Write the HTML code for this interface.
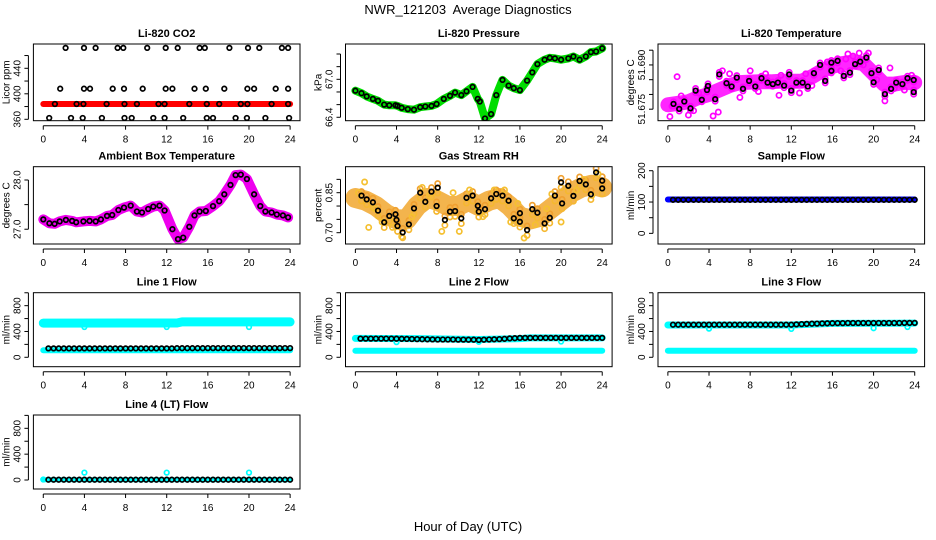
<!DOCTYPE html>
<html><head><meta charset="utf-8">
<style>
html,body{margin:0;padding:0;background:#fff;}
svg{display:block;font-family:"Liberation Sans",Arial,sans-serif;}
</style></head>
<body>
<svg id="chart" width="936" height="540" viewBox="0 0 936 540" xmlns="http://www.w3.org/2000/svg">
<rect width="936" height="540" fill="#fff"/>
<text x="468" y="14" font-size="13" text-anchor="middle">NWR_121203&#160; Average Diagnostics</text>
<text x="468" y="531" font-size="13" text-anchor="middle">Hour of Day (UTC)</text>
</svg>
<script>
// ---------- DATA ----------
const xTicks = [0,4,8,12,16,20,24];
// CO2
const co2Top = [2.17,3.96,5.09,7.23,7.78,10.1,11.9,13.07,15.2,15.7,18.1,19.9,21.0,23.2,23.8];
const co2Mid = [1.65,3.96,4.54,6.75,7.85,9.67,11.9,12.55,14.7,15.8,17.6,19.85,20.5,22.6,23.8];
const co2Base = [1.13,3.24,3.9,6.16,7.9,9.1,11.2,11.8,14.2,15.9,17.1,19.2,19.85,22.2,23.8];
const co2Low = [0.58,2.7,3.83,5.7,7.9,8.6,10.7,11.8,13.6,15.9,16.5,18.7,19.8,21.6,23.9];
const co2Levels = [472,408,384,362];
const co2BandT = [0,12,12.5,24];
const co2BandV = [384,384,384,384];
// Pressure
const presT = [0,0.6,1.1,1.7,2.2,2.8,3.3,3.9,4.1,4.5,5.1,5.7,6.3,6.8,7.4,7.9,8.6,9.2,9.7,10.3,10.8,11.4,11.9,12.1,12.6,13.2,13.7,14.3,14.9,15.4,16,16.7,17.2,17.7,18.4,18.9,19.4,20,20.7,21.2,21.8,22.4,22.9,23.4,24];
const presV = [66.82,66.78,66.73,66.69,66.66,66.6,66.59,66.59,66.58,66.55,66.53,66.52,66.56,66.57,66.58,66.61,66.69,66.74,66.79,66.75,66.81,66.88,66.69,66.65,66.38,66.45,66.75,66.99,66.9,66.86,66.83,66.98,67.11,67.24,67.31,67.34,67.33,67.31,67.33,67.36,67.31,67.36,67.43,67.44,67.49];
// Li-820 temperature
const ltT = [0.55,1.1,1.6,2.2,2.7,3.3,3.8,3.9,4.6,5.0,5.7,6.2,6.7,7.3,7.9,8.5,9.1,9.7,10.2,10.7,11.3,11.8,12.0,12.5,13.1,13.6,14.2,14.8,15.3,15.9,15.9,16.5,17.1,17.7,18.2,18.7,19.3,19.8,20.0,20.5,21.1,21.7,22.2,22.8,23.3,23.9,23.9];
const ltV = [51.6768,51.6751,51.6776,51.6753,51.6813,51.6782,51.6815,51.6829,51.6784,51.6868,51.6838,51.6827,51.6857,51.6819,51.6846,51.6827,51.6855,51.6840,51.6835,51.6840,51.6830,51.6868,51.6813,51.6840,51.6840,51.6827,51.6872,51.6900,51.6846,51.6908,51.6880,51.6914,51.6863,51.6874,51.6903,51.6911,51.6925,51.6872,51.6841,51.6883,51.6801,51.6819,51.6840,51.6835,51.6855,51.6808,51.6849];
const ltBandT = [0,1,2,3,4,5,6,7,8,9,10,11,12,13,14,15,16,17,18,19,20,21,22,23,24];
const ltBandV = [51.6765,51.6770,51.6775,51.6790,51.6800,51.6815,51.6830,51.6840,51.6842,51.6843,51.6843,51.6845,51.6845,51.6845,51.6860,51.6880,51.6895,51.6905,51.6910,51.6905,51.6870,51.6835,51.6835,51.6840,51.6840];
const ltOutT = [0.9,2.0,4.4,4.9,7.0,10.8,17.5,18.6,21.1,21.6,23.7,0.2,0.4,1.3,2.5,3.0,5.3,6.0,8.0,8.8,9.5,11.0,12.8,13.4,14.0,15.5,16.8,17.3,18.0,19.0,19.5,20.3,22.0,23.0];
const ltOutV = [51.6860,51.6730,51.6727,51.6740,51.6790,51.6797,51.6937,51.6940,51.6778,51.6890,51.6865,51.6725,51.6760,51.6795,51.6745,51.6805,51.6880,51.6870,51.6880,51.6810,51.6870,51.6865,51.6805,51.6870,51.6830,51.6910,51.6880,51.6920,51.6930,51.6900,51.6940,51.6850,51.6820,51.6815];
// Ambient box temperature
const ambT = [0,0.6,1.1,1.6,2.2,2.8,3.2,3.9,4.5,5.1,5.6,6.2,6.7,7.3,7.85,8.5,9.1,9.6,10.2,10.7,11.3,11.8,12.55,13.1,13.6,14.2,14.7,15.2,15.8,16.5,17.1,17.6,18.2,18.7,19.2,19.8,20.5,21.1,21.6,22.2,22.7,23.3,23.8];
const ambV = [27.2,27.12,27.11,27.16,27.19,27.17,27.14,27.16,27.17,27.16,27.2,27.27,27.29,27.39,27.44,27.48,27.36,27.34,27.41,27.46,27.48,27.38,27.0,26.8,26.83,27.05,27.28,27.36,27.37,27.47,27.57,27.71,27.9,28.1,28.11,28.02,27.71,27.47,27.36,27.34,27.3,27.28,27.24];
// Gas stream RH
const rhT = [0.6,1.1,1.7,2.2,2.8,3.3,3.9,4.0,4.1,4.6,5.2,5.7,6.3,6.8,7.4,7.9,8.0,8.7,9.2,9.7,10.3,10.8,11.4,11.9,12,12.6,13.2,13.7,14.3,14.9,15.4,16.0,16.0,16.7,17.2,17.7,18.4,18.9,19.4,20,20.1,20.7,21.2,21.8,22.4,22.9,23.4,24,24];
const rhV = [.839,.825,.814,.783,.739,.763,.769,.748,.725,.701,.731,.791,.85,.816,.854,.80,.869,.748,.779,.781,.754,.831,.839,.801,.779,.788,.829,.845,.839,.82,.754,.773,.741,.71,.788,.775,.735,.756,.839,.889,.81,.876,.838,.894,.881,.844,.926,.895,.866];
const rhBandT = [0,1,2,3,4,5,6,7,8,9,10,11,12,13,14,15,16,17,18,19,20,21,22,23,24];
const rhBandV = [.83,.82,.80,.77,.75,.75,.80,.83,.82,.80,.80,.82,.80,.82,.83,.80,.76,.75,.76,.79,.82,.85,.87,.88,.87];
const rhOutT = [0.9,1.3,4.5,6.5,8.4,10.1,14.5,15.8,16.4,19.1,20.0,23.0,0.3,1.9,2.6,3.6,5.5,7.2,9.5,11.1,12.4,13.5,15.1,17.5,18.6,21.5,22.2,23.6];
const rhOutV = [.89,.72,.685,.87,.705,.705,.86,.81,.68,.845,.74,.84,.85,.79,.74,.72,.76,.84,.85,.86,.76,.86,.74,.73,.79,.86,.90,.92];
// Sample flow
const sfBandT = [0,24];
const sfBandV = [108,108];
const sfV = [107,107,107,107,107,107,107,107,107,107,107,107,107,107,107,107,107,107,107,107,107,107,107,107,107,107,107,107,107,107,107,107,107,107,107,107,107,107,107,107,107,107,107,107,107,107,107,107];
// Flow times (half-hourly samples)
const flowT = [0.5,1,1.5,2,2.5,3,3.5,4,4.5,5,5.5,6,6.5,7,7.5,8,8.5,9,9.5,10,10.5,11,11.5,12,12.5,13,13.5,14,14.5,15,15.5,16,16.5,17,17.5,18,18.5,19,19.5,20,20.5,21,21.5,22,22.5,23,23.5,24];
const l1V = [137,137,137,137,137,137,137,138,137,137,137,137,137,137,137,138,137,137,137,137,137,137,137,138,138,140,140,140,141,141,141,142,142,142,142,142,142,142,142,143,143,143,143,143,143,143,143,143];
const l1UpT = [0,13,13.5,24]; const l1UpV = [530,532,548,548];
const l1LoT = [0,24]; const l1LoV = [110,110];
const l1OutT = [4,12,20]; const l1OutV = [470,470,470];
const l2V = [290,290,290,290,290,290,290,288,287,285,283,282,280,278,277,276,276,275,275,274,274,273,272,270,272,275,278,282,287,292,296,300,300,300,300,300,300,300,300,300,300,300,300,300,300,300,300,300];
const l2UpT = [0,6,12,16,17,24]; const l2UpV = [292,290,275,290,300,300];
const l2LoT = [0,24]; const l2LoV = [100,100];
const l2OutT = [4,12,20]; const l2OutV = [235,240,245];
const l3V = [505,505,505,505,505,505,505,505,505,505,505,505,505,505,505,505,505,505,505,505,505,505,505,505,510,515,518,520,522,525,526,528,530,530,531,531,532,532,532,532,532,532,532,532,532,533,533,533];
const l3UpT = [0,12,16,24]; const l3UpV = [500,500,525,530];
const l3LoT = [0,24]; const l3LoV = [100,100];
const l3OutT = [4,12,20,23.3]; const l3OutV = [445,440,450,470];
const l4V = [5,5,5,5,5,5,5,5,5,5,5,5,5,5,5,5,5,5,5,5,5,5,5,5,5,5,5,5,5,5,5,5,5,5,5,5,5,5,5,5,5,5,5,5,5,5,5,5];
const l4BandT = [0,24]; const l4BandV = [5,5];
const l4OutT = [0,4,12,20]; const l4OutV = [8,115,115,115];

// ---------- DRAWING ----------
const NS = "http://www.w3.org/2000/svg";
const svg = document.getElementById('chart');
const colLeft = [33.4, 345.5, 658];
const boxW = 266.6;
const rowTop = [44, 166.7, 292.7, 415];
const rowBot = [120.7, 244, 366.7, 489];

function mk(tag, attrs, parent){
  const e = document.createElementNS(NS, tag);
  for (const k in attrs) e.setAttribute(k, attrs[k]);
  (parent||svg).appendChild(e);
  return e;
}

function panel(cfg){
  const L = colLeft[cfg.col], T = rowTop[cfg.row], B = rowBot[cfg.row];
  const g = mk('g', {});
  
  
  const xr = t => L + (t + 0.96) / 25.92 * boxW;
  const yr = v => B - (v - cfg.ymin) / (cfg.ymax - cfg.ymin) * (B - T);
  const cp = 'clip-' + cfg.name;
  const cl = mk('clipPath', {id: cp}, g);
  mk('rect', {x: L, y: T, width: boxW, height: B - T}, cl);
  const pg = mk('g', {'clip-path': 'url(#' + cp + ')'}, g);
  
  
  for (const ly of cfg.layers){
    if (ly.type === 'band'){
      const pts = ly.t.map((t, i) => xr(t).toFixed(1) + ',' + yr(ly.v[i]).toFixed(1)).join(' ');
      const pl = mk('polyline', {points: pts, fill: 'none', stroke: ly.color, 'stroke-width': ly.w, 'stroke-linejoin': 'round', 'stroke-linecap': 'round', opacity: ly.op || 1}, pg);
      
      
    } else {
      ly.t.forEach((t, i) => {
        const v = Array.isArray(ly.v) ? ly.v[i] : ly.v;
        const c = mk('circle', {cx: xr(t).toFixed(1), cy: yr(v).toFixed(1), r: ly.r || 2.3, fill: 'none', stroke: ly.color, 'stroke-width': ly.sw || 1.7}, pg);
        
        
      });
    }
  }
  const box = mk('rect', {x: L, y: T, width: boxW, height: B - T, fill: 'none', stroke: '#000', 'stroke-width': 1}, g);
  
  
  const ay = B + 5;
  const xa = mk('g', {}, g);
  
  
  mk('line', {x1: xr(0), x2: xr(24), y1: ay, y2: ay, stroke: '#000'}, xa);
  xTicks.forEach(t => {
    mk('line', {x1: xr(t), x2: xr(t), y1: ay, y2: ay + 4, stroke: '#000'}, xa);
    const tx = mk('text', {x: xr(t), y: ay + 17, 'font-size': 10, 'text-anchor': 'middle'}, xa);
    tx.textContent = t;
    
    
  });
  const ax = L - 5;
  const ya = mk('g', {}, g);
  
  
  mk('line', {x1: ax, x2: ax, y1: yr(cfg.yticks[0]), y2: yr(cfg.yticks[cfg.yticks.length - 1]), stroke: '#000'}, ya);
  cfg.yticks.forEach(v => mk('line', {x1: ax - 4, x2: ax, y1: yr(v), y2: yr(v), stroke: '#000'}, ya));
  cfg.ylabels.forEach((lab, i) => {
    const y = yr(cfg.ylabelVals[i]);
    const tx = mk('text', {x: ax - 8, y: y, 'font-size': 10, 'text-anchor': 'middle', transform: 'rotate(-90 ' + (ax - 8) + ' ' + y + ')'}, ya);
    tx.textContent = lab;
    
    
  });
  const yc = (T + B) / 2, yx = L - 24;
  const yt = mk('text', {x: yx, y: yc, 'font-size': 10, 'text-anchor': 'middle', transform: 'rotate(-90 ' + yx + ' ' + yc + ')'}, g);
  yt.textContent = cfg.ylab;
  
  
  const tt = mk('text', {x: L + boxW / 2, y: T - 7, 'font-size': 11, 'font-weight': 'bold', 'text-anchor': 'middle'}, g);
  tt.textContent = cfg.title;
  
  
}

const flowTicks = [0,200,400,600,800,1000];
const flowLabV = [0,400,800];
const flowLab = ['0','400','800'];

panel({name:'co2-panel', col:0, row:0, title:'Li-820 CO2', ylab:'Licor ppm', ymin:357.8, ymax:478.1,
  yticks:[360,380,400,420,440,460], ylabelVals:[360,400,440], ylabels:['360','400','440'],
  layers:[
    {type:'band', name:'co2-band', t:co2BandT, v:co2BandV, color:'#ff0000', w:6},
    {type:'pts', name:'co2-point', t:co2Top, v:co2Levels[0], color:'#000'},
    {type:'pts', name:'co2-point', t:co2Mid, v:co2Levels[1], color:'#000'},
    {type:'pts', name:'co2-point', t:co2Base, v:co2Levels[2], color:'#000'},
    {type:'pts', name:'co2-point', t:co2Low, v:co2Levels[3], color:'#000'}
  ]});
panel({name:'pressure-panel', col:1, row:0, title:'Li-820 Pressure', ylab:'kPa', ymin:66.346, ymax:67.558,
  yticks:[66.4,66.6,66.8,67.0,67.2,67.4], ylabelVals:[66.4,67.0], ylabels:['66.4','67.0'],
  layers:[
    {type:'band', name:'pressure-band', t:presT, v:presV, color:'#00dd00', w:8},
    {type:'pts', name:'pressure-point', t:presT, v:presV, color:'#000'}
  ]});
panel({name:'licor-temp-panel', col:2, row:0, title:'Li-820 Temperature', ylab:'degrees C', ymin:51.6711, ymax:51.6971,
  yticks:[51.675,51.680,51.685,51.690,51.695], ylabelVals:[51.675,51.690], ylabels:['51.675','51.690'],
  layers:[
    {type:'band', name:'licor-temp-band', t:ltBandT, v:ltBandV, color:'#ff00ff', w:15, op:0.85},
    {type:'pts', name:'licor-temp-scatter', t:ltT, v:ltV.map(v=>v+0.0007), color:'#ff00ff', r:2.6},
    {type:'pts', name:'licor-temp-scatter', t:ltT, v:ltV.map(v=>v-0.0007), color:'#ff00ff', r:2.6},
    {type:'pts', name:'licor-temp-outlier', t:ltOutT, v:ltOutV, color:'#ff00ff', r:2.6},
    {type:'pts', name:'licor-temp-point', t:ltT, v:ltV, color:'#000'}
  ]});
panel({name:'ambient-temp-panel', col:0, row:1, title:'Ambient Box Temperature', ylab:'degrees C', ymin:26.70, ymax:28.27,
  yticks:[27.0,27.5,28.0], ylabelVals:[27.0,28.0], ylabels:['27.0','28.0'],
  layers:[
    {type:'band', name:'ambient-temp-band', t:ambT, v:ambV, color:'#ee00ee', w:10},
    {type:'pts', name:'ambient-temp-point', t:ambT, v:ambV, color:'#000'}
  ]});
panel({name:'rh-panel', col:1, row:1, title:'Gas Stream RH', ylab:'percent', ymin:0.6576, ymax:0.9475,
  yticks:[0.70,0.75,0.80,0.85,0.90], ylabelVals:[0.70,0.85], ylabels:['0.70','0.85'],
  layers:[
    {type:'band', name:'rh-band', t:rhBandT, v:rhBandV, color:'#f2ac3a', w:20, op:0.9},
    {type:'pts', name:'rh-scatter', t:rhT, v:rhV.map(v=>v-0.02), color:'#f5b830', r:2.6},
    {type:'pts', name:'rh-scatter', t:rhT, v:rhV.map(v=>v+0.015), color:'#f0a030', r:2.6},
    {type:'pts', name:'rh-outlier', t:rhOutT, v:rhOutV, color:'#f5c030', r:2.6},
    {type:'pts', name:'rh-point', t:rhT, v:rhV, color:'#000'}
  ]});
panel({name:'sample-flow-panel', col:2, row:1, title:'Sample Flow', ylab:'ml/min', ymin:-34, ymax:212.8,
  yticks:[0,50,100,150,200], ylabelVals:[0,100,200], ylabels:['0','100','200'],
  layers:[
    {type:'band', name:'sample-flow-band', t:sfBandT, v:sfBandV, color:'#0000ff', w:6},
    {type:'pts', name:'sample-flow-point', t:flowT, v:sfV, color:'#000'}
  ]});
panel({name:'line1-flow-panel', col:0, row:2, title:'Line 1 Flow', ylab:'ml/min', ymin:-146, ymax:1001,
  yticks:flowTicks, ylabelVals:flowLabV, ylabels:flowLab,
  layers:[
    {type:'band', name:'line1-upper-band', t:l1UpT, v:l1UpV, color:'#00ffff', w:9},
    {type:'band', name:'line1-lower-band', t:l1LoT, v:l1LoV, color:'#00ffff', w:6},
    {type:'pts', name:'line1-outlier', t:l1OutT, v:l1OutV, color:'#00ffff'},
    {type:'pts', name:'line1-point', t:flowT, v:l1V, color:'#000'}
  ]});
panel({name:'line2-flow-panel', col:1, row:2, title:'Line 2 Flow', ylab:'ml/min', ymin:-146, ymax:1001,
  yticks:flowTicks, ylabelVals:flowLabV, ylabels:flowLab,
  layers:[
    {type:'band', name:'line2-upper-band', t:l2UpT, v:l2UpV, color:'#00ffff', w:7},
    {type:'band', name:'line2-lower-band', t:l2LoT, v:l2LoV, color:'#00ffff', w:6},
    {type:'pts', name:'line2-outlier', t:l2OutT, v:l2OutV, color:'#00ffff'},
    {type:'pts', name:'line2-point', t:flowT, v:l2V, color:'#000'}
  ]});
panel({name:'line3-flow-panel', col:2, row:2, title:'Line 3 Flow', ylab:'ml/min', ymin:-146, ymax:1001,
  yticks:flowTicks, ylabelVals:flowLabV, ylabels:flowLab,
  layers:[
    {type:'band', name:'line3-upper-band', t:l3UpT, v:l3UpV, color:'#00ffff', w:7},
    {type:'band', name:'line3-lower-band', t:l3LoT, v:l3LoV, color:'#00ffff', w:6},
    {type:'pts', name:'line3-outlier', t:l3OutT, v:l3OutV, color:'#00ffff'},
    {type:'pts', name:'line3-point', t:flowT, v:l3V, color:'#000'}
  ]});
panel({name:'line4-flow-panel', col:0, row:3, title:'Line 4 (LT) Flow', ylab:'ml/min', ymin:-139, ymax:1006,
  yticks:flowTicks, ylabelVals:flowLabV, ylabels:flowLab,
  layers:[
    {type:'band', name:'line4-band', t:l4BandT, v:l4BandV, color:'#00ffff', w:5},
    {type:'pts', name:'line4-outlier', t:l4OutT, v:l4OutV, color:'#00ffff'},
    {type:'pts', name:'line4-point', t:flowT, v:l4V, color:'#000'}
  ]});
</script>
</body></html>
